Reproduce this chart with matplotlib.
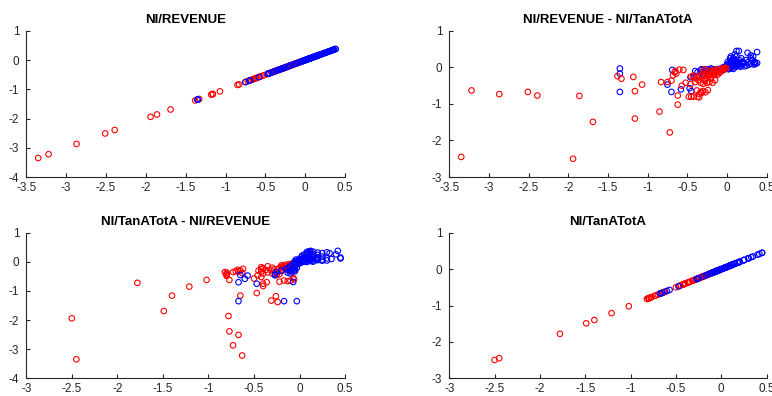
"""2x2 scatter matrix of NI/REVENUE and NI/TanATotA, two groups."""

import matplotlib
matplotlib.use("Agg")
from matplotlib import pyplot as plt
from matplotlib.ticker import FuncFormatter

plt.rcParams['font.family'] = ['Liberation Sans', 'DejaVu Sans']
plt.rcParams['axes.unicode_minus'] = False

# group 1 (red): pairs of (NI/REVENUE, NI/TanATotA)
red_rev = [-3.35, -3.22, -2.87, -2.51, -2.39, -1.94, -1.86, -1.69, -1.38, -1.33,
           -1.18, -1.16, -1.16, -1.07, -0.85, -0.83, -0.75, -0.72, -0.62, -0.62,
           -0.68, -0.66, -0.64, -0.65, -0.55, -0.60, -0.52, -0.46, -0.45, -0.42,
           -0.37, -0.35, -0.33, -0.38, -0.30, -0.24, -0.45, -0.40, -0.36, -0.38,
           -0.33, -0.30, -0.28, -0.25, -0.22, -0.20, -0.18, -0.15, -0.27, -0.30,
           -0.28, -0.25, -0.22, -0.20, -0.18, -0.16, -0.14, -0.12, -0.10, -0.08,
           -0.06, -0.05, -0.04, -0.03, -0.02, -0.01, -0.12, -0.10, -0.08, -0.35,
           -0.32, -0.26, -0.24, -0.22, -0.20, -0.17, -0.15, -0.13, -0.40, -0.42,
           -0.27, -0.70, -0.57, -0.27, -0.32, -0.35, -0.48]
red_tan = [-2.45, -0.63, -0.73, -0.67, -0.77, -2.50, -0.78, -1.49, -0.24, -0.31,
           -0.26, -1.40, -0.65, -0.47, -1.21, -0.40, -0.40, -1.78, -1.02, -0.77,
           -0.22, -0.13, -0.17, -0.10, -0.07, -0.06, -0.42, -0.46, -0.80, -0.80,
           -0.80, -0.73, -0.67, -0.63, -0.65, -0.62, -0.25, -0.40, -0.35, -0.27,
           -0.42, -0.45, -0.37, -0.42, -0.40, -0.30, -0.42, -0.35, -0.20, -0.10,
           -0.05, -0.15, -0.10, -0.18, -0.08, -0.15, -0.05, -0.12, -0.08, -0.05,
           -0.03, -0.08, -0.02, -0.05, -0.01, -0.02, -0.20, -0.16, -0.12, -0.25,
           -0.20, -0.28, -0.24, -0.22, -0.12, -0.20, -0.18, -0.10, -0.30, -0.22,
           -0.32, -0.36, -0.50, -0.68, -0.70, -0.82, -0.80]

# group 2 (blue): pairs of (NI/REVENUE, NI/TanATotA)
blue_rev = [-1.35, -1.35, -1.35, -0.75, -0.70, -0.69, -0.58, -0.47, -0.45, -0.46,
            -0.42, -0.37, -0.33, -0.30, -0.25, -0.20, 0.38, 0.12, 0.15, 0.38,
            0.36, 0.35, 0.32, 0.30, 0.26, 0.30, 0.35, 0.34, 0.20, 0.25,
            0.28, 0.22, 0.18, 0.15, 0.12, 0.10, 0.08, 0.06, 0.05, 0.10,
            0.12, 0.14, 0.16, 0.18, 0.08, 0.06, 0.04, 0.03, 0.02, 0.01,
            0.00, -0.02, -0.03, -0.05, -0.06, -0.08, -0.10, -0.12, -0.15, -0.18,
            -0.20, -0.22, -0.25, -0.28, -0.30, -0.32, -0.35, -0.40, 0.02, 0.05,
            0.07, 0.09, 0.11, 0.13, 0.10, 0.08, 0.05, 0.04, 0.07, 0.20,
            0.24, 0.22, 0.27, 0.30, 0.33, 0.17, 0.14, 0.03, 0.00, -0.04,
            0.01, 0.06, 0.09, 0.12, 0.16]
blue_tan = [-0.03, -0.17, -0.67, -0.47, -0.67, -0.07, -0.60, -0.57, -0.65, -0.27,
            -0.27, -0.13, -0.08, -0.12, -0.05, -0.03, 0.42, 0.45, 0.45, 0.12,
            0.10, 0.15, 0.20, 0.25, 0.40, 0.33, 0.12, 0.08, 0.10, 0.05,
            0.08, 0.03, 0.05, 0.15, 0.30, 0.35, 0.25, 0.20, 0.15, 0.20,
            0.10, 0.12, 0.20, 0.25, 0.10, 0.08, 0.05, 0.12, 0.03, 0.06,
            0.00, 0.02, -0.02, 0.00, -0.05, -0.03, -0.08, -0.05, -0.10, -0.05,
            -0.12, -0.08, -0.15, -0.10, -0.20, -0.05, -0.25, -0.10, -0.05, -0.02,
            0.02, 0.05, 0.08, 0.04, 0.00, -0.04, 0.30, 0.25, 0.18, 0.15,
            0.20, 0.12, 0.15, 0.10, 0.30, 0.02, 0.06, -0.03, 0.08, -0.06,
            0.15, 0.04, 0.12, 0.18, 0.09]

titles = ["NI/REVENUE", "NI/REVENUE - NI/TanATotA",
          "NI/TanATotA - NI/REVENUE", "NI/TanATotA"]

fig = plt.figure(figsize=(7.72, 3.96), dpi=100)
boxes = [[0.034, 0.553, 0.413, 0.369], [0.582, 0.553, 0.411, 0.369],
         [0.034, 0.045, 0.413, 0.367], [0.582, 0.045, 0.411, 0.367]]
pairs = [((red_rev, red_rev), (blue_rev, blue_rev)),
         ((red_rev, red_tan), (blue_rev, blue_tan)),
         ((red_tan, red_rev), (blue_tan, blue_rev)),
         ((red_tan, red_tan), (blue_tan, blue_tan))]
xlims = [(-3.5, 0.5), (-3.5, 0.5), (-3, 0.5), (-3, 0.5)]
ylims = [(-4, 1), (-3, 1), (-4, 1), (-3, 1)]
red_on_top = [False, True, False, False]

grey = '#262626'
fmt = FuncFormatter(lambda v, p: f"{v:g}")
for i in range(4):
    ax = fig.add_axes(boxes[i])
    (rx, ry), (bx, by) = pairs[i]
    zr = 3 if red_on_top[i] else 2
    ax.scatter(bx, by, s=16, facecolors='none', edgecolors='blue',
               linewidths=0.8, zorder=5 - zr)
    ax.scatter(rx, ry, s=16, facecolors='none', edgecolors='red',
               linewidths=0.8, zorder=zr)
    ax.set_xlim(*xlims[i])
    ax.set_ylim(*ylims[i])
    x0 = xlims[i][0]
    ax.set_xticks([x0 + 0.5 * k for k in range(int((0.5 - x0) / 0.5) + 1)])
    ax.set_yticks(range(ylims[i][0], 2))
    ax.xaxis.set_major_formatter(fmt)
    ax.yaxis.set_major_formatter(fmt)
    for s in ['top', 'right']:
        ax.spines[s].set_visible(False)
    for s in ['left', 'bottom']:
        ax.spines[s].set_color(grey)
        ax.spines[s].set_linewidth(0.8)
    ax.tick_params(direction='in', length=3, width=0.8, colors=grey,
                   labelsize=8.5)
    ax.tick_params(axis='x', pad=3.5)
    ax.tick_params(axis='y', pad=5)
    ax.set_title(titles[i], fontsize=9.5, fontweight='bold', pad=6)

fig.savefig('out.png', dpi=100)
